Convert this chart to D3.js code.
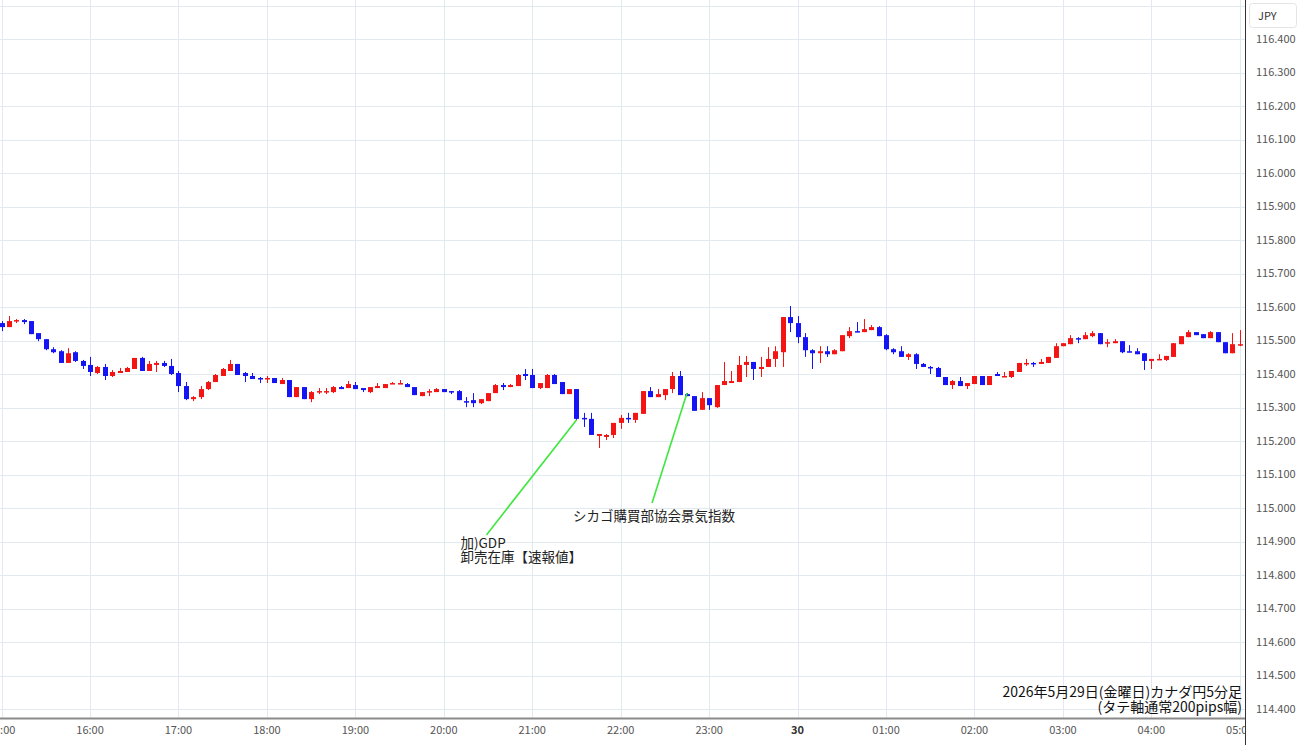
<!DOCTYPE html>
<html>
<head>
<meta charset="utf-8">
<script src="https://cdn.jsdelivr.net/npm/d3@7"></script>
<style>
	body { margin: 0; background: #fff; }
	svg { display: block; font-family: "Noto Sans CJK JP", "Noto Sans", sans-serif; }
</style>
</head>
<body>
<div id="chart"></div>
<script>
// 5-minute candles, 15:00 -> 05:00 (CAD/JPY)
const opens = [
	115.552,115.540,115.558,115.561,115.558,115.522,115.504,115.474,115.468,115.433,
	115.465,115.439,115.427,115.403,115.421,115.394,115.403,115.406,115.415,115.448,
	115.409,115.427,115.433,115.424,115.403,115.364,115.325,115.331,115.355,115.376,
	115.394,115.409,115.430,115.403,115.394,115.388,115.385,115.388,115.370,115.382,
	115.331,115.361,115.325,115.346,115.346,115.346,115.361,115.358,115.367,115.358,
	115.346,115.358,115.358,115.370,115.370,115.370,115.361,115.334,115.346,115.346,
	115.355,115.349,115.349,115.319,115.322,115.313,115.319,115.343,115.367,115.361,
	115.364,115.400,115.397,115.358,115.358,115.397,115.376,115.340,115.355,115.269,
	115.266,115.215,115.212,115.218,115.254,115.269,115.263,115.281,115.349,115.331,
	115.337,115.355,115.394,115.340,115.334,115.293,115.328,115.301,115.367,115.373,
	115.376,115.427,115.436,115.415,115.421,115.445,115.465,115.570,115.552,115.510,
	115.471,115.462,115.468,115.459,115.468,115.513,115.528,115.525,115.531,115.540,
	115.516,115.474,115.468,115.451,115.459,115.430,115.421,115.418,115.391,115.367,
	115.379,115.364,115.370,115.394,115.367,115.400,115.391,115.391,115.406,115.430,
	115.433,115.430,115.433,115.448,115.483,115.489,115.507,115.504,115.513,115.522,
	115.492,115.492,115.498,115.468,115.468,115.462,115.439,115.442,115.442,115.451,
	115.489,115.510,115.525,115.519,115.507,115.525,115.495,115.462,115.486
];
const highs = [
	115.558,115.573,115.564,115.564,115.558,115.522,115.504,115.480,115.471,115.477,
	115.468,115.442,115.451,115.424,115.430,115.412,115.418,115.421,115.448,115.451,
	115.439,115.439,115.439,115.445,115.409,115.376,115.334,115.364,115.379,115.400,
	115.418,115.442,115.430,115.406,115.403,115.391,115.394,115.388,115.388,115.382,
	115.361,115.361,115.349,115.358,115.358,115.364,115.364,115.379,115.376,115.358,
	115.361,115.373,115.370,115.376,115.382,115.373,115.361,115.346,115.355,115.358,
	115.355,115.349,115.352,115.331,115.343,115.325,115.343,115.370,115.373,115.370,
	115.400,115.415,115.415,115.373,115.400,115.400,115.376,115.355,115.355,115.284,
	115.284,115.221,115.221,115.254,115.278,115.284,115.284,115.349,115.361,115.355,
	115.355,115.406,115.409,115.343,115.334,115.346,115.328,115.367,115.436,115.409,
	115.454,115.454,115.436,115.451,115.480,115.483,115.570,115.603,115.573,115.522,
	115.474,115.483,115.483,115.474,115.516,115.540,115.555,115.564,115.546,115.543,
	115.519,115.477,115.483,115.462,115.462,115.433,115.424,115.421,115.391,115.382,
	115.391,115.373,115.394,115.394,115.394,115.406,115.406,115.409,115.433,115.445,
	115.436,115.445,115.451,115.492,115.492,115.516,115.510,115.525,115.528,115.522,
	115.504,115.504,115.498,115.486,115.477,115.462,115.445,115.459,115.454,115.492,
	115.513,115.531,115.525,115.519,115.528,115.525,115.495,115.522,115.531
];
const lows = [
	115.528,115.540,115.552,115.549,115.519,115.498,115.471,115.462,115.433,115.433,
	115.436,115.415,115.394,115.400,115.382,115.391,115.403,115.406,115.415,115.409,
	115.409,115.406,115.421,115.397,115.346,115.322,115.319,115.325,115.352,115.376,
	115.394,115.409,115.397,115.376,115.385,115.373,115.373,115.373,115.370,115.331,
	115.331,115.325,115.316,115.340,115.340,115.343,115.355,115.358,115.355,115.346,
	115.343,115.358,115.358,115.370,115.370,115.361,115.337,115.334,115.334,115.346,
	115.346,115.340,115.322,115.301,115.301,115.310,115.319,115.343,115.352,115.361,
	115.364,115.382,115.358,115.355,115.358,115.370,115.340,115.340,115.263,115.242,
	115.218,115.179,115.203,115.209,115.236,115.254,115.254,115.281,115.331,115.331,
	115.322,115.343,115.337,115.334,115.290,115.293,115.293,115.299,115.367,115.373,
	115.376,115.391,115.382,115.391,115.421,115.421,115.421,115.525,115.492,115.451,
	115.415,115.433,115.451,115.459,115.468,115.507,115.525,115.525,115.531,115.513,
	115.471,115.459,115.451,115.442,115.415,115.421,115.400,115.391,115.367,115.355,
	115.364,115.355,115.370,115.367,115.367,115.394,115.391,115.388,115.406,115.424,
	115.421,115.430,115.433,115.448,115.483,115.489,115.492,115.504,115.510,115.489,
	115.480,115.492,115.462,115.465,115.459,115.412,115.415,115.442,115.439,115.451,
	115.489,115.510,115.516,115.507,115.507,115.495,115.462,115.462,115.483
];
const closes = [
	115.540,115.558,115.561,115.555,115.519,115.504,115.474,115.465,115.433,115.462,
	115.439,115.424,115.406,115.421,115.394,115.406,115.409,115.418,115.448,115.409,
	115.430,115.433,115.424,115.400,115.364,115.325,115.331,115.355,115.376,115.397,
	115.415,115.430,115.397,115.394,115.385,115.385,115.388,115.373,115.382,115.331,
	115.361,115.325,115.346,115.349,115.349,115.361,115.355,115.370,115.355,115.352,
	115.361,115.364,115.370,115.373,115.373,115.361,115.337,115.346,115.349,115.355,
	115.346,115.346,115.322,115.316,115.313,115.325,115.343,115.367,115.361,115.367,
	115.397,115.394,115.358,115.373,115.397,115.370,115.340,115.355,115.266,115.266,
	115.218,115.221,115.218,115.254,115.269,115.266,115.284,115.349,115.331,115.340,
	115.355,115.394,115.337,115.334,115.290,115.328,115.307,115.367,115.379,115.379,
	115.427,115.436,115.415,115.421,115.445,115.468,115.570,115.552,115.510,115.471,
	115.462,115.468,115.459,115.471,115.516,115.528,115.525,115.534,115.540,115.513,
	115.474,115.465,115.451,115.459,115.430,115.421,115.418,115.391,115.367,115.379,
	115.364,115.373,115.394,115.367,115.394,115.394,115.394,115.409,115.433,115.433,
	115.430,115.436,115.451,115.483,115.492,115.507,115.504,115.516,115.522,115.489,
	115.495,115.498,115.465,115.465,115.459,115.439,115.445,115.445,115.454,115.492,
	115.513,115.525,115.516,115.507,115.525,115.495,115.462,115.489,115.489
];

const priceTicks = [
	114.4,114.5,114.6,114.7,114.8,114.9,115.0,115.1,115.2,115.3,115.4,
	115.5,115.6,115.7,115.8,115.9,116.0,116.1,116.2,116.3,116.4,116.5
];

// event notes: candle index they point at, and the note lines
const notes = [
	{index: 78, at: 'low', lines: ['加)GDP', '卸売在庫【速報値】'], dx: -90, dy: 115, tx: -116, ty: 13, anchor: 'start'},
	{index: 93, at: 'high', lines: ['シカゴ購買部協会景気指数'], dx: -35, dy: 110, tx: -33, ty: 18, anchor: 'middle'}
];

const titleLines = ['2026年5月29日(金曜日)カナダ円5分足', '(タテ軸通常200pips幅)'];

const START = new Date(2026, 4, 29, 15, 0);
const END = new Date(2026, 4, 30, 5, 0);
const UP = '#f41414';
const DOWN = '#1414f4';
const GRID = '#e2eaf1';

const candles = opens.map((o, i) => ({
	t: new Date(START.getTime() + i * 5 * 60000),
	o: o, h: highs[i], l: lows[i], c: closes[i]
}));

const W = 1300, H = 745;
const PLOT = {left: 0, right: 1245, top: 0, bottom: 718};

const svg = d3.select('#chart').append('svg')
	.attr('width', W)
	.attr('height', H);

const x = d3.scaleTime()
	.domain([START, END])
	.range([1.6, 1239.8]);

const y = d3.scaleLinear()
	.domain([114.4, 116.4])
	.range([709, 39]);

svg.append('defs').append('clipPath')
	.attr('id', 'plotclip')
	.append('rect')
	.attr('x', PLOT.left).attr('y', PLOT.top)
	.attr('width', PLOT.right - PLOT.left)
	.attr('height', PLOT.bottom - PLOT.top);

const plot = svg.append('g').attr('clip-path', 'url(#plotclip)');

// grid
const hourTicks = x.ticks(d3.timeHour.every(1));

plot.append('g')
	.selectAll('line')
	.data(priceTicks)
	.join('line')
	.attr('x1', PLOT.left).attr('x2', PLOT.right)
	.attr('y1', d => Math.round(y(d)) + 0.5)
	.attr('y2', d => Math.round(y(d)) + 0.5)
	.attr('stroke', GRID);

plot.append('g')
	.selectAll('line')
	.data(hourTicks)
	.join('line')
	.attr('x1', d => Math.round(x(d)) + 0.5)
	.attr('x2', d => Math.round(x(d)) + 0.5)
	.attr('y1', PLOT.top).attr('y2', PLOT.bottom)
	.attr('stroke', GRID);

// candles
const barW = 5;
const cg = plot.append('g')
	.selectAll('g')
	.data(candles)
	.join('g')
	.attr('fill', d => d.c >= d.o ? UP : DOWN)
	.attr('stroke', d => d.c >= d.o ? UP : DOWN);

cg.append('line')
	.attr('x1', d => Math.round(x(d.t)) + 0.5)
	.attr('x2', d => Math.round(x(d.t)) + 0.5)
	.attr('y1', d => y(d.h))
	.attr('y2', d => y(d.l))
	.attr('stroke-width', 1);

cg.append('rect')
	.attr('x', d => Math.round(x(d.t)) - 2)
	.attr('width', barW)
	.attr('y', d => y(Math.max(d.o, d.c)))
	.attr('height', d => Math.max(1.5, Math.abs(y(d.o) - y(d.c))))
	.attr('stroke', 'none');

// notes
const ng = plot.append('g')
	.selectAll('g')
	.data(notes)
	.join('g')
	.attr('transform', d => {
		const c = candles[d.index];
		return `translate(${x(c.t)}, ${y(d.at === 'low' ? c.l : c.h)})`;
	});

ng.append('line')
	.attr('x1', 0).attr('y1', 0)
	.attr('x2', d => d.dx).attr('y2', d => d.dy)
	.attr('stroke', '#3ee63e')
	.attr('stroke-width', 1.6);

ng.append('text')
	.attr('font-size', 13.5)
	.attr('fill', '#222')
	.attr('text-anchor', d => d.anchor)
	.selectAll('tspan')
	.data(d => d.lines.map((s, k) => ({s, k, d})))
	.join('tspan')
	.attr('x', p => p.d.tx)
	.attr('y', p => p.d.dy + p.d.ty + p.k * 14)
	.text(p => p.s);

// title, bottom right
svg.append('text')
	.attr('text-anchor', 'end')
	.attr('font-size', 14)
	.attr('fill', '#111')
	.selectAll('tspan')
	.data(titleLines)
	.join('tspan')
	.attr('x', 1242)
	.attr('y', (d, k) => 697 + k * 14.5)
	.text(d => d);

// x axis
svg.append('line')
	.attr('x1', 0).attr('x2', PLOT.right)
	.attr('y1', PLOT.bottom + 0.5).attr('y2', PLOT.bottom + 0.5)
	.attr('stroke', '#8a8a8a').attr('stroke-width', 2);

svg.append('g')
	.selectAll('text')
	.data(hourTicks)
	.join('text')
	.attr('x', d => x(d))
	.attr('y', 734)
	.attr('text-anchor', 'middle')
	.attr('font-size', 11)
	.attr('font-weight', d => d.getHours() === 0 ? 'bold' : 'normal')
	.attr('fill', d => d.getHours() === 0 ? '#333' : '#555')
	.text(d => d.getHours() === 0 ? d3.timeFormat('%d')(d) : d3.timeFormat('%H:%M')(d));

// right price axis panel
svg.append('rect')
	.attr('x', PLOT.right).attr('y', 0)
	.attr('width', W - PLOT.right).attr('height', H)
	.attr('fill', '#fff');

svg.append('line')
	.attr('x1', PLOT.right + 0.5).attr('x2', PLOT.right + 0.5)
	.attr('y1', 0).attr('y2', H)
	.attr('stroke', '#333');

svg.append('g')
	.selectAll('text')
	.data(priceTicks.filter(d => d <= 116.4))
	.join('text')
	.attr('x', 1256)
	.attr('y', d => y(d))
	.attr('dy', '0.35em')
	.attr('font-size', 11)
	.attr('fill', '#555')
	.text(d => d3.format('.3f')(d));

svg.append('rect')
	.attr('x', 1249.5).attr('y', 3.5)
	.attr('width', 47).attr('height', 24)
	.attr('rx', 3)
	.attr('fill', '#fff')
	.attr('stroke', '#e4e4e4');

svg.append('text')
	.attr('x', 1258).attr('y', 16)
	.attr('dy', '0.35em')
	.attr('font-size', 11)
	.attr('fill', '#333')
	.text('JPY');
</script>
</body>
</html>
